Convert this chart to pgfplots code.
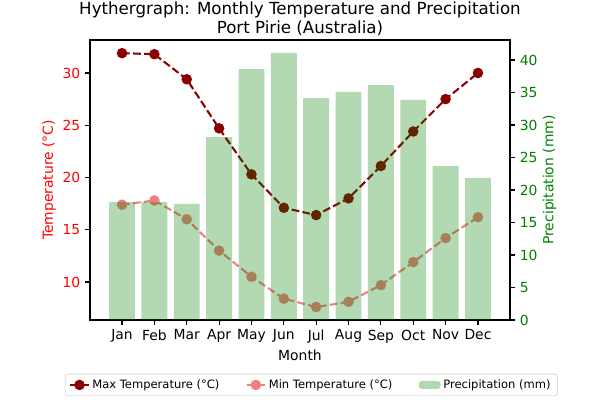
\documentclass[border=0pt]{standalone}
\usepackage{pgfplots}
\pgfplotsset{compat=1.18}
\usepackage{fontspec}
\setmainfont{DejaVu Sans}
\definecolor{maxc}{HTML}{8B0000}
\definecolor{minc}{HTML}{F08080}
\definecolor{mplgreen}{HTML}{008000}

\pgfplotsset{
  tline/.style={line width=1.5pt, dash pattern=on 5.55pt off 2.4pt,
    mark=*, mark size=3pt, mark options={solid}},
  shortleg/.style={legend image code/.code={
    \draw[mark repeat=2, mark phase=2, ##1] plot coordinates {(0cm,0cm)(0.23cm,0cm)(0.46cm,0cm)};}},
}

\begin{document}
\begin{tikzpicture}
\path[use as bounding box] (-64.8pt,-57.6pt) rectangle (367.2pt,230.4pt);
\pgfplotsset{
  every axis/.append style={
    scale only axis, width=302.4pt, height=201.6pt,
    xmin=-0.99, xmax=11.99, at={(0,0)}, anchor=south west,
    tick align=outside, major tick length=3.5pt,
    tick style={black, line width=0.8pt},
    axis line style={line width=0.8pt},
    font=\fontsize{10}{12}\selectfont,
    /pgf/number format/assume math mode=true,
  },
}

\begin{axis}[
  ymin=6.36, ymax=33.16,
  ytick={10,15,20,25,30},
  xtick={0,...,11},
  xticklabels={Jan,Feb,Mar,Apr,May,Jun,Jul,Aug,Sep,Oct,Nov,Dec},
  xtick pos=bottom, ytick pos=left,
  yticklabel style={red},
  ylabel={Temperature (°C)}, ylabel style={red}, ylabel shift=-2pt,
  xlabel={Month}, xlabel shift=-2pt,
  title={Hythergraph: Monthly Temperature and Precipitation\\Port Pirie (Australia)},
  title style={align=center, font=\fontsize{12}{13.5}\selectfont, yshift=-6.5pt},
]
\addplot[maxc, tline] coordinates {
  (0,31.9)(1,31.8)(2,29.4)(3,24.7)(4,20.3)(5,17.1)
  (6,16.4)(7,18.0)(8,21.1)(9,24.4)(10,27.5)(11,30.0)};
\addplot[minc, tline] coordinates {
  (0,17.4)(1,17.8)(2,16.0)(3,13.0)(4,10.5)(5,8.4)
  (6,7.6)(7,8.1)(8,9.7)(9,11.9)(10,14.2)(11,16.2)};
\end{axis}

\begin{axis}[
  ymin=0, ymax=43.08,
  axis y line*=right, axis x line=none,
  ytick={0,5,...,40},
  yticklabel style={mplgreen},
  ylabel={Precipitation (mm)}, ylabel style={mplgreen}, ylabel shift=-3pt,
  legend columns=3,
  legend style={at={(0.527,-0.232)}, anchor=center,
    draw=black!20, rounded corners=2pt,
    font=\fontsize{8.3}{10}\selectfont,
    /tikz/every even column/.append style={column sep=17pt}},
]
\addlegendimage{maxc, tline, shortleg}
\addlegendentry{Max Temperature (°C)}
\addlegendimage{minc, tline, shortleg}
\addlegendentry{Min Temperature (°C)}
\addlegendimage{legend image code/.code={
  \path[draw=none, fill=mplgreen, fill opacity=0.3] (0cm,-0.1cm) rectangle (0.55cm,0.1cm);}}
\addlegendentry{Precipitation (mm)}
\addplot[ybar, bar width=0.8, bar shift=0pt, fill=mplgreen, draw=none,
  fill opacity=0.3, forget plot] coordinates {
  (0,18.15)(1,18.15)(2,17.85)(3,28.15)(4,38.6)(5,41.1)
  (6,34.15)(7,35.1)(8,36.15)(9,33.85)(10,23.7)(11,21.85)};
\end{axis}
\end{tikzpicture}
\end{document}
